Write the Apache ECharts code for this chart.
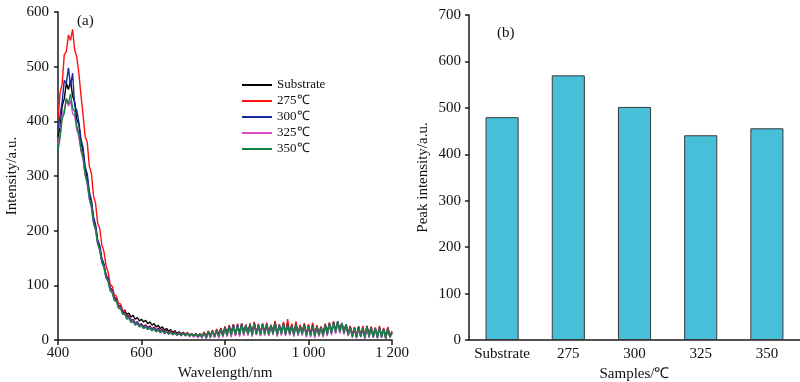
<!DOCTYPE html>
<html><head><meta charset="utf-8">
<script src="https://cdn.jsdelivr.net/npm/echarts@6/dist/echarts.min.js"></script>
<style>html,body{margin:0;padding:0;background:#fff}#c{width:800px;height:382px}</style>
</head><body><div id="c"></div>
<script>
var wavelengths = [
400,405,410,415,420,425,430,435,440,445,
450,455,460,465,470,475,480,485,490,495,
500,505,510,515,520,525,530,535,540,545,
550,555,560,565,570,575,580,585,590,595,
600,605,610,615,620,625,630,635,640,645,
650,655,660,665,670,675,680,685,690,695,
700,705,710,715,720,725,730,735,740,745,
750,755,760,765,770,775,780,785,790,795,
800,805,810,815,820,825,830,835,840,845,
850,855,860,865,870,875,880,885,890,895,
900,905,910,915,920,925,930,935,940,945,
950,955,960,965,970,975,980,985,990,995,
1000,1005,1010,1015,1020,1025,1030,1035,1040,1045,
1050,1055,1060,1065,1070,1075,1080,1085,1090,1095,
1100,1105,1110,1115,1120,1125,1130,1135,1140,1145,
1150,1155,1160,1165,1170,1175,1180,1185,1190,1195,
1200];
var substrate = [
372,388,428,441,470,458,475,446,436,404,
394,361,345,312,298,266,252,221,208,181,
170,148,138,119,112,95,91,78,75,63,
62,52,55,47,49,42,45,38,41,35,
38,33,36,30,33,27,30,24,27,21,
24,18,21,16,19,14,17,12,15,11,
14,10,13,9,12,8,12,7,11,7,
14,5,16,8,17,6,19,10,21,9,
24,10,26,12,28,9,25,14,30,11,
27,12,29,10,32,13,26,9,30,14,
28,11,26,15,33,10,27,13,31,12,
29,12,26,10,30,11,25,14,28,9,
26,10,27,9,24,12,23,10,28,13,
30,14,33,16,34,17,31,15,29,11,
24,9,22,7,25,8,21,6,26,8,
23,7,21,6,23,8,20,5,22,8,
15];
var s275 = [
405,452,468,522,528,558,548,568,530,518,
488,448,412,372,362,318,305,264,250,214,
204,174,162,136,124,102,98,83,80,67,
66,54,53,44,45,36,38,31,33,27,
30,25,28,22,26,20,24,18,22,17,
20,15,18,13,17,11,15,10,14,9,
13,9,14,8,12,7,11,6,12,7,
15,6,17,7,18,8,20,9,22,10,
25,11,27,12,29,10,30,11,31,13,
28,12,31,11,33,10,30,14,29,12,
32,12,28,14,35,11,29,15,33,12,
38,13,30,11,34,12,28,15,31,10,
29,11,32,10,27,13,25,12,30,14,
32,15,34,17,33,18,31,15,29,12,
26,8,24,9,23,7,26,8,25,10,
25,8,23,7,26,6,22,9,24,7,
16];
var s300 = [
384,412,436,475,470,498,465,488,428,420,
398,368,352,318,304,272,256,226,211,184,
173,149,139,119,112,95,91,76,73,62,
60,51,50,42,43,36,37,31,33,27,
29,24,27,22,25,20,23,18,21,16,
19,14,17,12,15,11,14,10,13,9,
12,8,12,8,11,7,11,6,10,5,
13,4,15,6,17,7,18,8,20,9,
23,9,25,10,27,11,28,12,29,11,
28,11,29,10,31,13,27,11,30,12,
29,10,27,13,31,10,27,12,30,11,
28,12,26,10,29,11,25,12,28,9,
26,9,27,8,24,10,23,9,28,11,
30,13,32,15,34,16,31,14,29,10,
24,6,22,5,24,7,21,4,25,6,
23,6,21,5,22,6,20,3,21,6,
14];
var s325 = [
358,375,412,420,440,428,438,414,410,384,
372,346,331,301,286,258,243,214,201,176,
164,142,134,114,108,91,88,73,72,59,
58,48,48,39,41,33,35,28,31,24,
27,21,25,19,23,17,21,15,19,13,
17,11,16,10,14,9,13,8,12,7,
12,7,11,6,11,5,10,4,10,3,
14,2,15,3,16,4,17,3,19,5,
21,6,23,5,25,7,26,6,27,7,
26,8,27,6,29,9,26,7,28,8,
27,7,26,9,29,6,26,8,28,7,
26,8,25,6,27,7,24,8,26,5,
24,5,25,4,23,6,22,5,26,7,
28,9,30,11,32,12,29,10,27,7,
22,4,21,3,22,5,20,2,23,4,
21,4,20,3,21,4,19,2,20,4,
12];
var s350 = [
348,370,405,415,442,432,450,424,418,390,
378,349,334,303,288,259,244,215,202,176,
164,142,132,114,106,90,86,72,70,58,
57,47,47,38,40,32,34,27,30,24,
26,21,24,19,22,17,20,15,18,14,
17,12,15,11,14,10,13,9,12,8,
12,8,12,7,11,7,11,6,10,6,
14,4,15,5,16,6,17,7,19,7,
22,8,24,9,25,10,26,9,28,11,
27,10,28,9,30,11,27,10,29,11,
28,10,27,11,30,9,27,11,29,10,
27,11,26,9,28,10,25,11,27,8,
25,8,26,7,24,9,23,8,27,10,
30,12,32,14,33,15,31,13,29,9,
23,6,22,5,23,6,21,4,24,6,
22,5,21,4,22,5,20,3,21,5,
13];
var seriesNames = ['Substrate','275\u2103','300\u2103','325\u2103','350\u2103'];
var barCategories = ['Substrate','275','300','325','350'];
var peakValues = [480, 570, 502, 441, 456];

var FONT = 'Liberation Serif';
var lineColors = ['#000000','#ff1010','#1a2a9a','#d84ccc','#138044'];
var spectra = [substrate, s275, s300, s325, s350];

function pairs(arr){ return wavelengths.map(function(w,i){ return [w, arr[i]]; }); }
function fmtNum(v){ var s = String(v); return s.length > 3 ? s.slice(0, s.length-3) + ' ' + s.slice(-3) : s; }

var axisLineStyle = {color:'#1a1a1a', width:1.5};
var labelStyle = {fontFamily:FONT, fontSize:15, color:'#111'};
var nameStyle = {fontFamily:FONT, fontSize:15, color:'#111'};

var lineSeries = spectra.map(function(arr, i){
  return {
    name: seriesNames[i], type:'line', xAxisIndex:0, yAxisIndex:0,
    data: pairs(arr), symbol:'none', showSymbol:false, animation:false,
    lineStyle:{color:lineColors[i], width:1.4}, itemStyle:{color:lineColors[i]}
  };
});

var chart = echarts.init(document.getElementById('c'), null, {renderer:'canvas'});
chart.setOption({
  backgroundColor:'#fff',
  animation:false,
  grid:[
    {left:58, top:12, width:334, bottom:42, containLabel:false, outerBoundsMode:'none'},
    {left:469, top:15, right:0, bottom:42, containLabel:false, outerBoundsMode:'none'}
  ],
  legend:{
    data:seriesNames, orient:'vertical', left:242, top:78, padding:0,
    icon:'rect', itemWidth:30, itemHeight:2, itemGap:2,
    textStyle:{fontFamily:FONT, fontSize:13, color:'#111', lineHeight:14}
  },
  xAxis:[
    {gridIndex:0, type:'value', min:400, max:1200, interval:200,
     name:'Wavelength/nm', nameLocation:'middle', nameGap:23, nameTextStyle:nameStyle,
     axisLine:{show:true, lineStyle:axisLineStyle},
     axisTick:{show:true, inside:false, length:5, lineStyle:axisLineStyle},
     axisLabel:{show:true, margin:6, formatter:function(v){return fmtNum(v);}, fontFamily:FONT, fontSize:15, color:'#111'},
     splitLine:{show:false}},
    {gridIndex:1, type:'category', data:barCategories,
     name:'Samples/\u2103', nameLocation:'middle', nameGap:23, nameTextStyle:nameStyle,
     axisLine:{show:true, lineStyle:axisLineStyle},
     axisTick:{show:false},
     axisLabel:Object.assign({margin:7, interval:0}, labelStyle)}
  ],
  yAxis:[
    {gridIndex:0, type:'value', min:0, max:600, interval:100,
     name:'Intensity/a.u.', nameLocation:'middle', nameGap:38, nameTextStyle:nameStyle,
     axisLine:{show:true, lineStyle:axisLineStyle},
     axisTick:{show:true, length:4, lineStyle:axisLineStyle},
     axisLabel:Object.assign({margin:9}, labelStyle),
     splitLine:{show:false}},
    {gridIndex:1, type:'value', min:0, max:700, interval:100,
     name:'Peak intensity/a.u.', nameLocation:'middle', nameGap:38, nameTextStyle:nameStyle,
     axisLine:{show:true, lineStyle:axisLineStyle},
     axisTick:{show:true, length:4, lineStyle:axisLineStyle},
     axisLabel:Object.assign({margin:8}, labelStyle),
     splitLine:{show:false}}
  ],
  graphic:[
    {type:'text', left:77, top:14, style:{text:'(a)', font:'15px "Liberation Serif"', fill:'#111'}},
    {type:'text', left:497, top:26, style:{text:'(b)', font:'15px "Liberation Serif"', fill:'#111'}}
  ],
  series: lineSeries.concat([{
    name:'peak', type:'bar', xAxisIndex:1, yAxisIndex:1, data:peakValues, barWidth:'50%',
    itemStyle:{color:'#48bfd9', borderColor:'#3a3a3a', borderWidth:1}, animation:false
  }])
});
</script></body></html>
